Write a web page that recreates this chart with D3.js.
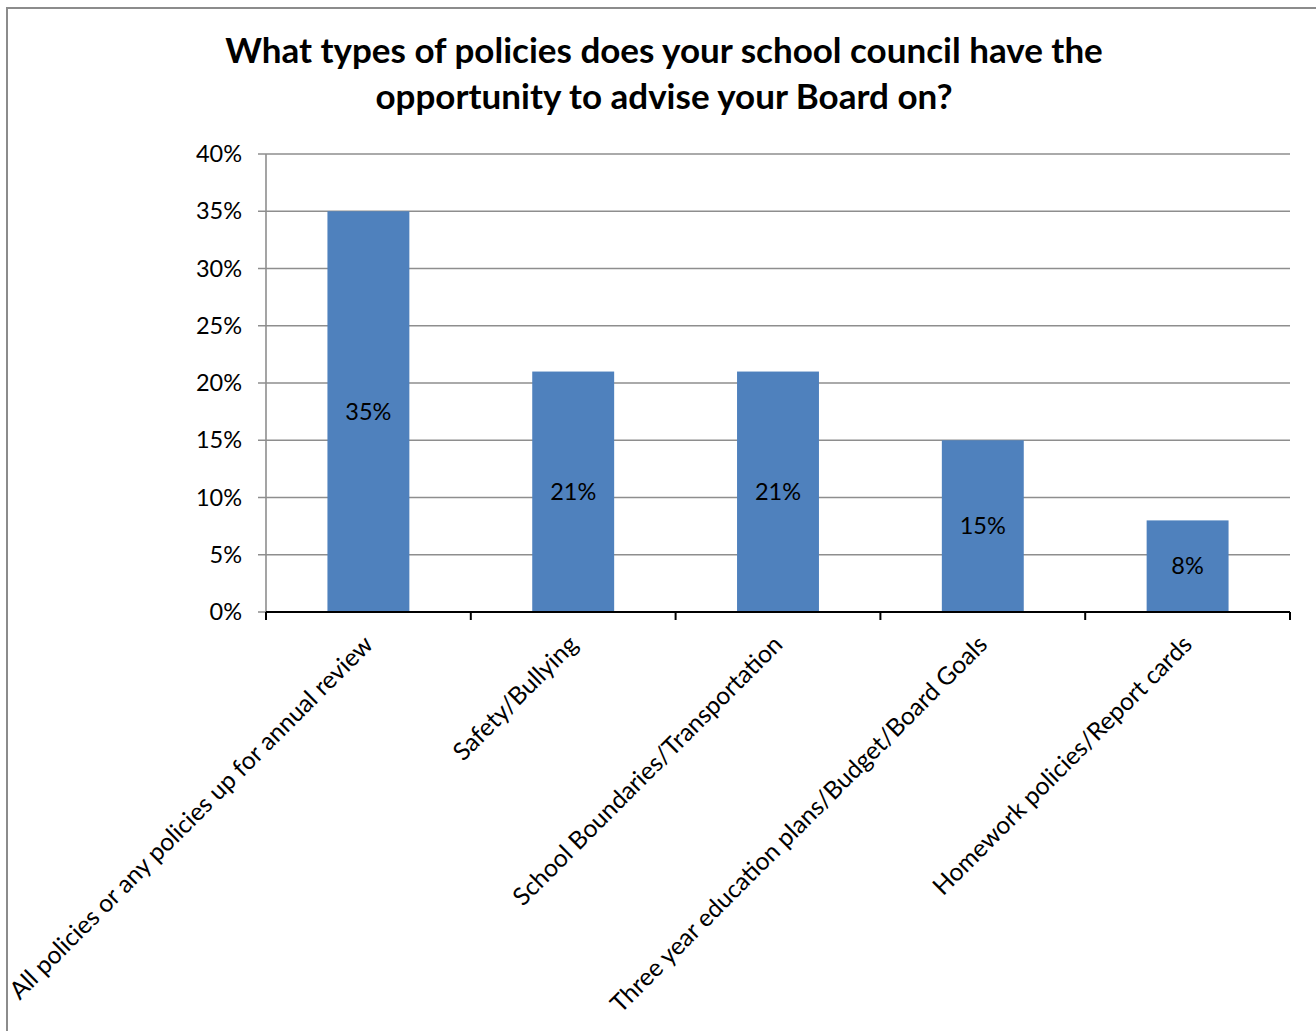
<!DOCTYPE html>
<html><head><meta charset="utf-8">
<script src="https://cdn.jsdelivr.net/npm/d3@7"></script>
<style>body{margin:0;background:#fff}svg{display:block}</style>
</head><body>
<svg id="c" width="1316" height="1031"></svg>
<script>
const categories = ["All policies or any policies up for annual review","Safety/Bullying","School Boundaries/Transportation","Three year education plans/Budget/Board Goals","Homework policies/Report cards"];
const values = [0.35,0.21,0.21,0.15,0.08];
const dataLabels = ["35%","21%","21%","15%","8%"];
const yTicks = [0,0.05,0.10,0.15,0.20,0.25,0.30,0.35,0.40];
const titleLines = ["What types of policies does your school council have the","opportunity to advise your Board on?"];

(function(){
const svg = d3.select("#c");
const font = "Lato, 'Open Sans', sans-serif";
svg.append("rect").attr("x",7).attr("y",8).attr("width",1340).attr("height",1060)
  .attr("fill","#fff").attr("stroke","#8c8c8c").attr("stroke-width",2);

const pL=266, pR=1290, pT=154, pB=612;
const x = d3.scaleBand().domain(categories).range([pL,pR]).padding(0);
const y = d3.scaleLinear().domain([0,0.40]).range([pB,pT]);

svg.append("g").selectAll("line").data(yTicks).join("line")
  .attr("x1",pL-8).attr("x2",pR).attr("y1",d=>y(d)).attr("y2",d=>y(d))
  .attr("stroke","#8e8e8e").attr("stroke-width",1.6);
svg.append("line").attr("x1",pL).attr("x2",pL).attr("y1",pT).attr("y2",pB)
  .attr("stroke","#8e8e8e").attr("stroke-width",1.6);
svg.append("g").selectAll("text").data(yTicks).join("text")
  .attr("x",pL-24).attr("y",d=>y(d)).attr("dy","0.35em").attr("text-anchor","end")
  .attr("font-family",font).attr("font-size",23.5).attr("fill","#000")
  .text(d=>d3.format(".0%")(d));

const bw = x.bandwidth()*0.4;
svg.append("g").selectAll("rect").data(values).join("rect")
  .attr("x",(d,i)=>x(categories[i])+x.bandwidth()/2-bw/2)
  .attr("width",bw).attr("y",d=>y(d)).attr("height",d=>pB-y(d))
  .attr("fill","#4f81bd");
svg.append("g").selectAll("text").data(values).join("text")
  .attr("x",(d,i)=>x(categories[i])+x.bandwidth()/2)
  .attr("y",d=>(y(d)+pB)/2).attr("dy","0.35em").attr("text-anchor","middle")
  .attr("font-family",font).attr("font-size",23.5).attr("fill","#000")
  .text((d,i)=>dataLabels[i]);

svg.append("line").attr("x1",pL).attr("x2",pR).attr("y1",pB).attr("y2",pB)
  .attr("stroke","#000").attr("stroke-width",2);
const bounds = categories.map(c=>x(c)).concat([pR]);
svg.append("g").selectAll("line").data(bounds).join("line")
  .attr("x1",d=>d).attr("x2",d=>d).attr("y1",pB).attr("y2",pB+8)
  .attr("stroke","#000").attr("stroke-width",2);
svg.append("g").selectAll("text").data(categories).join("text")
  .attr("transform",c=>`translate(${x(c)+x.bandwidth()/2+6},${pB+34}) rotate(-45)`)
  .attr("text-anchor","end").attr("font-family",font).attr("font-size",24.6).attr("fill","#000")
  .text(c=>c);

svg.append("g").selectAll("text").data(titleLines).join("text")
  .attr("x",664).attr("y",(d,i)=>63+i*46).attr("text-anchor","middle")
  .attr("font-family",font).attr("font-weight","bold").attr("font-size",35).attr("fill","#000")
  .text(d=>d);
})();
</script>
</body></html>
